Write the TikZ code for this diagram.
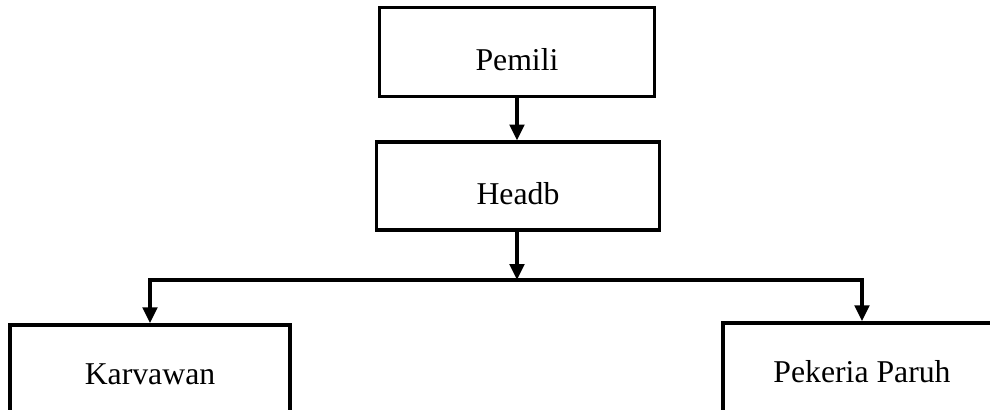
\documentclass[tikz,border=0pt]{standalone}
\usepackage{fontspec}
\setmainfont{Liberation Serif}
\usetikzlibrary{arrows.meta}

\begin{document}
\begin{tikzpicture}[x=0.378pt, y=-0.378pt,
  box/.style={draw, rectangle, line width=1.45pt, text height=14pt, text depth=0pt, font=\fontsize{12}{14}\selectfont},
  link/.style={line width=1.3pt, -{Triangle[width=5.5pt,length=6pt]}}]
\clip (0,0) rectangle (990,410);
% Top of the chart
\node[box, minimum width=104pt, minimum height=33.6pt] (pemili) at (517,52) {Pemili};
\node[box, minimum width=107pt, minimum height=33pt] (headb) at (518,186) {Headb};

% Lower level (cut off at the bottom)
\node[box, text height=5pt, minimum width=106pt, minimum height=40pt] (karyawan) at (150,378) {Karvawan};
\node[box, text height=5pt, minimum width=105pt, minimum height=40pt] (pekerja) at (862,376) {Pekeria Paruh};

% Split point
\coordinate (split) at (517,280);

% Connections
\draw[link] (pemili) -- (pemili.south |- headb.north);
\draw[link] (headb.south -| split) -- (split);
\draw[link] (split) -| (karyawan.north);
\draw[link] (split) -| (pekerja.north);
\end{tikzpicture}
\end{document}
